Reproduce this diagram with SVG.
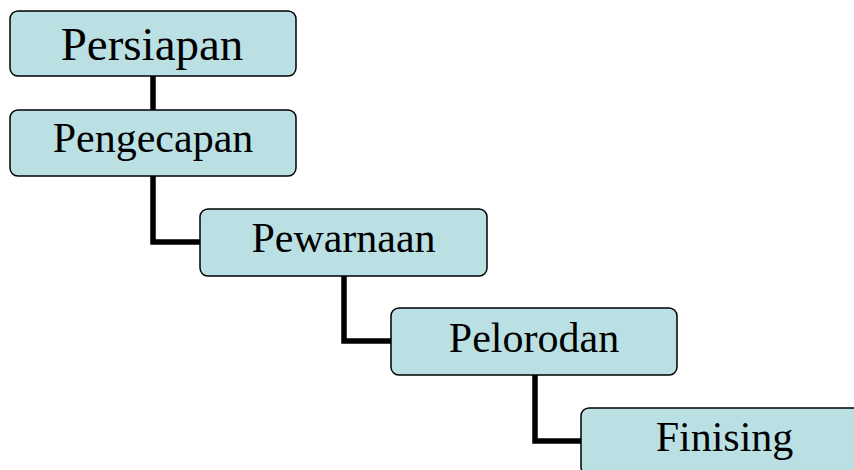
<svg xmlns="http://www.w3.org/2000/svg" width="854" height="470" viewBox="0 0 854 470">
<style>
.box{fill:#BBE0E3;stroke:#000;stroke-width:1.5}
.lbl{font-family:"Liberation Serif","Times New Roman",serif;font-size:42px;fill:#000;text-anchor:middle}
.conn{fill:none;stroke:#000;stroke-width:5.5}
</style>
<rect width="854" height="470" fill="#fff"/>
<g id="connectors">
<path class="conn" d="M153,76 V110"/>
<path class="conn" d="M153,176 V242 H200"/>
<path class="conn" d="M344,276 V341 H391"/>
<path class="conn" d="M535,375 V441 H581"/>
</g>
<g id="persiapan">
<rect class="box" x="10" y="11" width="286" height="65" rx="8"/>
<text class="lbl" x="152" y="60" style="font-size:47px">Persiapan</text>
</g>
<g id="pengecapan">
<rect class="box" x="10" y="110" width="286" height="66" rx="8"/>
<text class="lbl" x="153" y="152">Pengecapan</text>
</g>
<g id="pewarnaan">
<rect class="box" x="200" y="209" width="287" height="67" rx="8"/>
<text class="lbl" x="343.5" y="252">Pewarnaan</text>
</g>
<g id="pelorodan">
<rect class="box" x="391" y="308" width="286" height="67" rx="8"/>
<text class="lbl" x="534" y="352">Pelorodan</text>
</g>
<g id="finising">
<rect class="box" x="581" y="408" width="287" height="67" rx="8"/>
<text class="lbl" x="724.5" y="451">Finising</text>
</g>
</svg>
